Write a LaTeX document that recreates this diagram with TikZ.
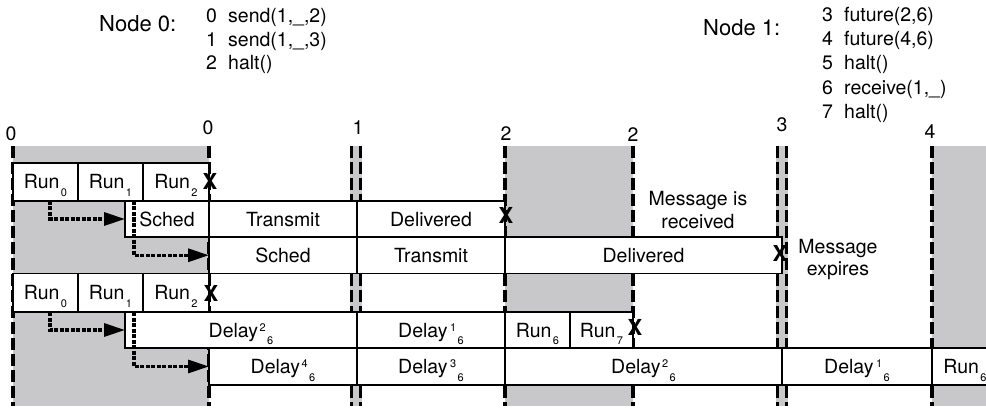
\documentclass[tikz,border=0pt]{standalone}
\usepackage{fontspec}
\setmainfont{TeX Gyre Heros}
\usepackage{graphicx}
\usetikzlibrary{arrows.meta}

\definecolor{slotgray}{RGB}{200,200,202}

\newcommand\boxfont{\fontsize{19.5}{22}\selectfont}
\newcommand\headfont{\fontsize{22}{24}\selectfont}
% index helpers: raised / lowered small digits that do not change the line height
\newcommand\lowidx[1]{\kern1.5pt\smash{\raisebox{-7.5pt}{\fontsize{11}{11}\selectfont #1}}}
\newcommand\highidx[1]{\kern1.5pt\smash{\raisebox{6pt}{\fontsize{11}{11}\selectfont #1}}}
% numbered program line
\newcommand\progline[2]{\makebox[22pt][l]{#1}#2}

\tikzset{
  cell/.style={draw, fill=white, line width=1.4pt, inner sep=0pt, outer sep=0pt,
    anchor=north west, text height=14pt, text depth=0pt, font=\boxfont},
  lbl/.style={inner sep=0pt, anchor=base, font=\boxfont},
  codeline/.style={inner sep=0pt, anchor=base west, font=\boxfont},
  xmark/.style={inner sep=0pt, font=\fontsize{22}{22}\selectfont\bfseries},
  tick/.style={line width=3.2pt, dash pattern=on 12pt off 4pt},
  flow/.style={line width=3.2pt, dash pattern=on 4pt off 1.5pt,
    -{Triangle[length=21pt,width=13pt]}},
}

\begin{document}
\begin{tikzpicture}[x=1pt,y=-1pt]
\useasboundingbox (0,0) rectangle (986,409);
\clip (0,0) rectangle (986,409);

% programs of the two nodes
\node[anchor=base west, inner sep=0pt, font=\headfont] (n0) at (99,32) {Node 0:};
\node[codeline] (p0) at (206,23)   {\progline{0}{send(1,\_,2)}};
\node[codeline] (p1) at (206,46.5) {\progline{1}{send(1,\_,3)}};
\node[codeline] (p2) at (206,70)   {\progline{2}{halt()}};

\node[anchor=base west, inner sep=0pt, font=\headfont] (n1) at (703,36) {Node 1:};
\node[codeline] (p3) at (822,22)   {\progline{3}{future(2,6)}};
\node[codeline] (p4) at (822,46)   {\progline{4}{future(4,6)}};
\node[codeline] (p5) at (822,70)   {\progline{5}{halt()}};
\node[codeline] (p6) at (822,94.5) {\progline{6}{receive(1,\_)}};
\node[codeline] (p7) at (822,119)  {\progline{7}{halt()}};

% time stamps
\node[lbl] (t0) at (11,141)  {0};
\node[lbl] (t1) at (208,135) {0};
\node[lbl] (t2) at (358,135) {1};
\node[lbl] (t3) at (506,141) {2};
\node[lbl] (t4) at (633,142) {2};
\node[lbl] (t5) at (782,132) {3};
\node[lbl] (t6) at (930,139) {4};

% shaded intervals
\fill[slotgray] (13,146) rectangle (209,406);
\fill[slotgray] (505,146) rectangle (633,406);
\fill[slotgray] (350,146) rectangle (362,406);
\fill[slotgray] (776,146) rectangle (788,406);
\fill[slotgray] (932,146) rectangle (986,406);

% time boundaries
\foreach \x in {13,209,351.5,360.5,505,633,777.5,786.5,932}
  \draw[tick] (\x,146) -- (\x,406);

% node 0 runs
\node[cell, minimum width=65pt, minimum height=38pt] (a0) at (13,163)  {Run\lowidx{0}};
\node[cell, minimum width=65pt, minimum height=38pt] (a1) at (78,163)  {Run\lowidx{1}};
\node[cell, minimum width=66pt, minimum height=38pt] (a2) at (143,163) {Run\lowidx{2}};

% first message
\node[cell, minimum width=84pt,  minimum height=36pt] (b0) at (125,201) {Sched};
\node[cell, minimum width=148pt, minimum height=36pt] (b1) at (209,201) {Transmit};
\node[cell, minimum width=148pt, minimum height=36pt] (b2) at (357,201) {Delivered};

% second message
\node[cell, minimum width=148pt, minimum height=36.5pt] (c0) at (209,237) {Sched};
\node[cell, minimum width=148pt, minimum height=36.5pt] (c1) at (357,237) {Transmit};
\node[cell, minimum width=277pt, minimum height=36.5pt] (c2) at (505,237) {Delivered};

% node 1 runs
\node[cell, minimum width=65pt, minimum height=38.5pt] (d0) at (13,273.5)  {Run\lowidx{0}};
\node[cell, minimum width=65pt, minimum height=38.5pt] (d1) at (78,273.5)  {Run\lowidx{1}};
\node[cell, minimum width=66pt, minimum height=38.5pt] (d2) at (143,273.5) {Run\lowidx{2}};

% first future
\node[cell, minimum width=232pt, minimum height=36pt] (e0) at (125,312) {Delay\highidx{2}\lowidx{6}};
\node[cell, minimum width=148pt, minimum height=36pt] (e1) at (357,312) {Delay\kern1pt\highidx{1}\lowidx{6}};
\node[cell, minimum width=65pt,  minimum height=36pt] (e2) at (505,312) {Run\lowidx{6}};
\node[cell, minimum width=63pt,  minimum height=36pt] (e3) at (570,312) {Run\lowidx{7}};

% second future
\node[cell, minimum width=148pt, minimum height=37pt] (f0) at (209,348) {Delay\highidx{4}\lowidx{6}};
\node[cell, minimum width=148pt, minimum height=37pt] (f1) at (357,348) {Delay\kern1pt\highidx{3}\lowidx{6}};
\node[cell, minimum width=277pt, minimum height=37pt] (f2) at (505,348) {Delay\highidx{2}\lowidx{6}};
\node[cell, minimum width=150pt, minimum height=37pt] (f3) at (782,348) {Delay\kern1pt\highidx{1}\lowidx{6}};
\node[cell, minimum width=66pt,  minimum height=37pt] (f4) at (932,348) {Run\lowidx{6}};

% termination marks
\node[xmark] (x0) at (210,181) {X};
\node[xmark] (x1) at (506,215) {X};
\node[xmark] (x2) at (780,253) {X};
\node[xmark] (x3) at (211,293) {X};
\node[xmark] (x4) at (635,327) {X};

% annotations
\node[lbl] (m0) at (698,205) {Message is};
\node[lbl] (m1) at (698,229) {received};
\node[lbl] (m2) at (838,253) {Message};
\node[lbl] (m3) at (838,275) {expires};

% scheduling arrows
\draw[flow] ([xshift=4.5pt]a0.south) |- (b0.west);
\draw[flow] ([xshift=23.5pt]a1.south) |- (c0.west);
\draw[flow] ([xshift=4.5pt]d0.south) |- (e0.west);
\draw[flow] ([xshift=23.5pt]d1.south) |- (f0.west);
\end{tikzpicture}
\end{document}
